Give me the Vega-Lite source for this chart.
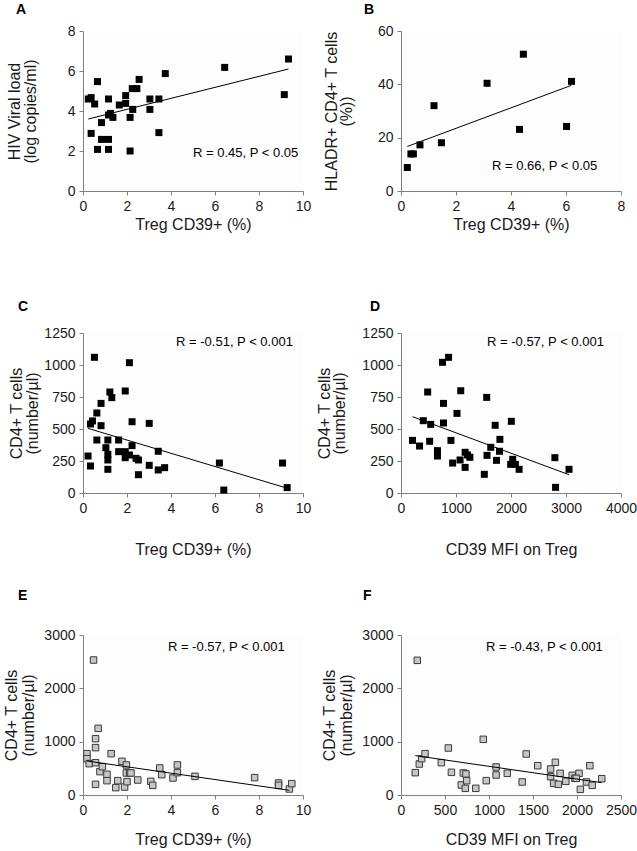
{
"$schema": "https://vega.github.io/schema/vega-lite/v6.json",
"autosize": {"type": "pad"},
"padding": {"left": 2, "top": 3, "right": 0, "bottom": 5},
"background": "white",
"datasets": {
"A": [{"x":0.24,"y":4.60},{"x":0.37,"y":4.67},{"x":0.53,"y":4.35},{"x":0.66,"y":5.47},{"x":0.37,"y":2.88},{"x":0.66,"y":2.08},{"x":0.84,"y":3.42},{"x":0.84,"y":2.58},{"x":1.16,"y":2.58},{"x":1.16,"y":2.08},{"x":1.16,"y":4.60},{"x":1.16,"y":3.80},{"x":1.25,"y":3.88},{"x":1.36,"y":3.68},{"x":1.65,"y":4.30},{"x":1.94,"y":4.77},{"x":1.94,"y":4.38},{"x":2.14,"y":2.00},{"x":2.14,"y":3.68},{"x":2.26,"y":4.08},{"x":2.24,"y":5.12},{"x":2.45,"y":5.12},{"x":2.55,"y":5.58},{"x":3.04,"y":4.60},{"x":3.04,"y":4.08},{"x":3.45,"y":4.60},{"x":3.45,"y":2.92},{"x":3.74,"y":5.87},{"x":6.44,"y":6.18},{"x":9.15,"y":4.82},{"x":9.34,"y":6.60}],
"A_line": [{"x":0.24,"y":3.60},{"x":9.34,"y":6.10}],
"A_txt": [{"x":5.0,"y":1.9,"label":"R = 0.45, P < 0.05"}],
"B": [{"x":0.23,"y":8.8},{"x":0.36,"y":13.9},{"x":0.45,"y":13.9},{"x":0.69,"y":17.3},{"x":1.20,"y":32.0},{"x":1.47,"y":18.1},{"x":3.13,"y":40.4},{"x":4.31,"y":23.1},{"x":4.45,"y":51.3},{"x":6.02,"y":24.2},{"x":6.20,"y":41.1}],
"B_line": [{"x":0.23,"y":16.7},{"x":6.19,"y":39.6}],
"B_txt": [{"x":3.31,"y":9.4,"label":"R = 0.66, P < 0.05"}],
"C": [{"x":0.23,"y":289},{"x":0.34,"y":211},{"x":0.34,"y":539},{"x":0.43,"y":563},{"x":0.52,"y":1060},{"x":0.63,"y":625},{"x":0.63,"y":414},{"x":0.82,"y":700},{"x":0.82,"y":526},{"x":1.13,"y":414},{"x":1.04,"y":354},{"x":1.13,"y":302},{"x":1.13,"y":258},{"x":1.13,"y":185},{"x":1.22,"y":789},{"x":1.31,"y":745},{"x":1.62,"y":414},{"x":1.62,"y":323},{"x":1.92,"y":797},{"x":1.92,"y":323},{"x":1.92,"y":276},{"x":2.11,"y":297},{"x":2.11,"y":1018},{"x":2.23,"y":557},{"x":2.23,"y":370},{"x":2.41,"y":271},{"x":2.52,"y":258},{"x":2.52,"y":143},{"x":3.01,"y":544},{"x":3.01,"y":216},{"x":3.42,"y":326},{"x":3.42,"y":180},{"x":3.71,"y":198},{"x":6.20,"y":234},{"x":6.40,"y":23},{"x":9.07,"y":234},{"x":9.28,"y":42}],
"C_line": [{"x":0.23,"y":505},{"x":9.25,"y":39}],
"C_txt": [{"x":4.23,"y":1180,"label":"R = -0.51, P < 0.001"}],
"D": [{"x":209,"y":411},{"x":337,"y":367},{"x":405,"y":565},{"x":485,"y":789},{"x":521,"y":404},{"x":540,"y":536},{"x":663,"y":331},{"x":663,"y":289},{"x":755,"y":1021},{"x":773,"y":700},{"x":773,"y":547},{"x":865,"y":1060},{"x":908,"y":411},{"x":939,"y":234},{"x":1018,"y":622},{"x":1074,"y":258},{"x":1086,"y":799},{"x":1166,"y":318},{"x":1166,"y":200},{"x":1209,"y":297},{"x":1252,"y":279},{"x":1515,"y":146},{"x":1558,"y":747},{"x":1564,"y":294},{"x":1632,"y":357},{"x":1712,"y":529},{"x":1736,"y":255},{"x":1798,"y":419},{"x":1791,"y":326},{"x":2006,"y":560},{"x":2031,"y":263},{"x":1994,"y":224},{"x":2080,"y":224},{"x":2147,"y":185},{"x":2798,"y":276},{"x":2810,"y":44},{"x":3055,"y":185}],
"D_line": [{"x":209,"y":596},{"x":3055,"y":143}],
"D_txt": [{"x":1564,"y":1180,"label":"R = -0.57, P < 0.001"}],
"E": [{"x":0.18,"y":775},{"x":0.18,"y":681},{"x":0.28,"y":588},{"x":0.48,"y":2531},{"x":0.57,"y":1056},{"x":0.57,"y":888},{"x":0.57,"y":606},{"x":0.57,"y":200},{"x":0.69,"y":1250},{"x":0.77,"y":438},{"x":0.88,"y":531},{"x":1.09,"y":388},{"x":1.09,"y":269},{"x":1.28,"y":775},{"x":1.49,"y":138},{"x":1.58,"y":269},{"x":1.77,"y":631},{"x":1.89,"y":150},{"x":1.97,"y":563},{"x":1.97,"y":413},{"x":2.0,"y":250},{"x":2.12,"y":413},{"x":2.18,"y":413},{"x":2.49,"y":281},{"x":3.08,"y":256},{"x":3.17,"y":181},{"x":3.49,"y":506},{"x":3.58,"y":381},{"x":4.09,"y":319},{"x":4.29,"y":563},{"x":4.29,"y":419},{"x":5.09,"y":350},{"x":7.8,"y":325},{"x":8.89,"y":225},{"x":8.89,"y":181},{"x":9.38,"y":113},{"x":9.49,"y":213}],
"E_line": [{"x":0.18,"y":638},{"x":9.38,"y":88}],
"E_txt": [{"x":3.86,"y":2775,"label":"R = -0.57, P < 0.001"}],
"F": [{"x":162,"y":419},{"x":185,"y":2525},{"x":208,"y":581},{"x":235,"y":681},{"x":273,"y":775},{"x":458,"y":606},{"x":538,"y":881},{"x":573,"y":425},{"x":685,"y":188},{"x":708,"y":413},{"x":738,"y":394},{"x":731,"y":125},{"x":746,"y":269},{"x":850,"y":125},{"x":935,"y":1044},{"x":969,"y":269},{"x":1081,"y":525},{"x":1081,"y":375},{"x":1208,"y":406},{"x":1377,"y":244},{"x":1423,"y":769},{"x":1554,"y":550},{"x":1700,"y":488},{"x":1700,"y":344},{"x":1754,"y":613},{"x":1735,"y":219},{"x":1788,"y":200},{"x":1808,"y":406},{"x":1873,"y":256},{"x":1946,"y":369},{"x":1977,"y":313},{"x":2023,"y":406},{"x":1992,"y":313},{"x":2038,"y":106},{"x":2108,"y":244},{"x":2146,"y":550},{"x":2173,"y":181},{"x":2281,"y":306}],
"F_line": [{"x":162,"y":738},{"x":2281,"y":231}],
"F_txt": [{"x":966,"y":2775,"label":"R = -0.43, P < 0.001"}]
},
"columns": 2,
"spacing": {"row": 142, "column": 98},
"bounds": "flush",
"concat": [
{
"width": 220, "height": 160,
"title": {"text": "A", "dx": -67, "offset": 7},
"encoding": {
"x": {"field": "x", "type": "quantitative", "scale": {"domain": [0, 10], "nice": false}, "axis": {"values": [0,2,4,6,8,10], "title": "Treg CD39+ (%)", "titleY": 33, "titleBaseline": "middle"}},
"y": {"field": "y", "type": "quantitative", "scale": {"domain": [0, 8], "nice": false}, "axis": {"values": [0,2,4,6,8], "title": ["HIV Viral load", "(log copies/ml)"], "titleX": -69, "titleBaseline": "middle", "titleLineHeight": 16}}
},
"layer": [
{"data": {"name": "A"}, "mark": {"type": "square", "size": 49, "color": "#000000", "opacity": 1}},
{"data": {"name": "A_line"}, "mark": {"type": "line", "color": "#000000", "strokeWidth": 1}},
{"data": {"name": "A_txt"}, "mark": {"type": "text", "align": "left", "baseline": "middle", "fontSize": 13, "color": "#000000"}, "encoding": {"text": {"field": "label"}}}
]
},
{
"width": 220, "height": 160,
"title": {"text": "B", "dx": -37, "offset": 7},
"encoding": {
"x": {"field": "x", "type": "quantitative", "scale": {"domain": [0, 8], "nice": false}, "axis": {"values": [0,2,4,6,8], "title": "Treg CD39+ (%)", "titleY": 33, "titleBaseline": "middle"}},
"y": {"field": "y", "type": "quantitative", "scale": {"domain": [0, 60], "nice": false}, "axis": {"values": [0,20,40,60], "title": ["HLADR+ CD4+ T cells", "(%))"], "titleX": -70, "titleBaseline": "middle", "titleLineHeight": 15}}
},
"layer": [
{"data": {"name": "B"}, "mark": {"type": "square", "size": 49, "color": "#000000", "opacity": 1}},
{"data": {"name": "B_line"}, "mark": {"type": "line", "color": "#000000", "strokeWidth": 1}},
{"data": {"name": "B_txt"}, "mark": {"type": "text", "align": "left", "baseline": "middle", "fontSize": 13, "color": "#000000"}, "encoding": {"text": {"field": "label"}}}
]
},
{
"width": 220, "height": 160,
"title": {"text": "C", "dx": -65, "offset": 12},
"encoding": {
"x": {"field": "x", "type": "quantitative", "scale": {"domain": [0, 10], "nice": false}, "axis": {"values": [0,2,4,6,8,10], "title": "Treg CD39+ (%)", "titleY": 56, "titleBaseline": "middle"}},
"y": {"field": "y", "type": "quantitative", "scale": {"domain": [0, 1250], "nice": false}, "axis": {"values": [0,250,500,750,1000,1250], "title": ["CD4+ T cells", "(number/µl)"], "titleX": -67, "titleBaseline": "middle", "titleLineHeight": 16}}
},
"layer": [
{"data": {"name": "C"}, "mark": {"type": "square", "size": 49, "color": "#000000", "opacity": 1}},
{"data": {"name": "C_line"}, "mark": {"type": "line", "color": "#000000", "strokeWidth": 1}},
{"data": {"name": "C_txt"}, "mark": {"type": "text", "align": "left", "baseline": "middle", "fontSize": 13, "color": "#000000"}, "encoding": {"text": {"field": "label"}}}
]
},
{
"width": 220, "height": 160,
"title": {"text": "D", "dx": -31, "offset": 12},
"encoding": {
"x": {"field": "x", "type": "quantitative", "scale": {"domain": [0, 4000], "nice": false}, "axis": {"values": [0,1000,2000,3000,4000], "title": "CD39 MFI on Treg", "titleY": 56, "titleBaseline": "middle"}},
"y": {"field": "y", "type": "quantitative", "scale": {"domain": [0, 1250], "nice": false}, "axis": {"values": [0,250,500,750,1000,1250], "title": ["CD4+ T cells", "(number/µl)"], "titleX": -77, "titleBaseline": "middle", "titleLineHeight": 15}}
},
"layer": [
{"data": {"name": "D"}, "mark": {"type": "square", "size": 49, "color": "#000000", "opacity": 1}},
{"data": {"name": "D_line"}, "mark": {"type": "line", "color": "#000000", "strokeWidth": 1}},
{"data": {"name": "D_txt"}, "mark": {"type": "text", "align": "left", "baseline": "middle", "fontSize": 13, "color": "#000000"}, "encoding": {"text": {"field": "label"}}}
]
},
{
"width": 220, "height": 160,
"title": {"text": "E", "dx": -65, "offset": 25},
"encoding": {
"x": {"field": "x", "type": "quantitative", "scale": {"domain": [0, 10], "nice": false}, "axis": {"values": [0,2,4,6,8,10], "title": "Treg CD39+ (%)", "titleY": 44, "titleBaseline": "middle"}},
"y": {"field": "y", "type": "quantitative", "scale": {"domain": [0, 3000], "nice": false}, "axis": {"values": [0,1000,2000,3000], "title": ["CD4+ T cells", "(number/µl)"], "titleX": -72, "titleBaseline": "middle", "titleLineHeight": 17}}
},
"layer": [
{"data": {"name": "E"}, "mark": {"type": "square", "size": 42, "color": "#c6c6c6", "fill": "#c6c6c6", "stroke": "#3a3a3a", "strokeWidth": 1, "filled": true, "opacity": 1}},
{"data": {"name": "E_line"}, "mark": {"type": "line", "color": "#000000", "strokeWidth": 1}},
{"data": {"name": "E_txt"}, "mark": {"type": "text", "align": "left", "baseline": "middle", "fontSize": 13, "color": "#000000"}, "encoding": {"text": {"field": "label"}}}
]
},
{
"width": 220, "height": 160,
"title": {"text": "F", "dx": -38, "offset": 25},
"encoding": {
"x": {"field": "x", "type": "quantitative", "scale": {"domain": [0, 2500], "nice": false}, "axis": {"values": [0,500,1000,1500,2000,2500], "title": "CD39 MFI on Treg", "titleY": 44, "titleBaseline": "middle"}},
"y": {"field": "y", "type": "quantitative", "scale": {"domain": [0, 3000], "nice": false}, "axis": {"values": [0,1000,2000,3000], "title": ["CD4+ T cells", "(number/µl)"], "titleX": -72, "titleBaseline": "middle", "titleLineHeight": 17}}
},
"layer": [
{"data": {"name": "F"}, "mark": {"type": "square", "size": 42, "color": "#c6c6c6", "fill": "#c6c6c6", "stroke": "#3a3a3a", "strokeWidth": 1, "filled": true, "opacity": 1}},
{"data": {"name": "F_line"}, "mark": {"type": "line", "color": "#000000", "strokeWidth": 1}},
{"data": {"name": "F_txt"}, "mark": {"type": "text", "align": "left", "baseline": "middle", "fontSize": 13, "color": "#000000"}, "encoding": {"text": {"field": "label"}}}
]
}
],
"config": {
"font": "Liberation Sans",
"view": {"stroke": null, "fill": "#fdfdfd"},
"axis": {"grid": false, "domainColor": "#808080", "tickColor": "#808080", "tickSize": 4, "labelPadding": 4, "labelFont": "Liberation Sans", "labelFontSize": 14, "labelColor": "#1a1a1a", "labelFlush": false, "labelOverlap": false, "format": "d", "titleFont": "Liberation Sans", "titleFontSize": 16, "titleFontWeight": "normal", "titleColor": "#1a1a1a"},
"axisX": {"titleAngle": 0},
"axisY": {"titleAngle": -90},
"title": {"font": "Liberation Sans", "fontSize": 14, "fontWeight": "bold", "anchor": "start", "baseline": "alphabetic", "color": "#000000", "frame": "group"},
"text": {"font": "Liberation Sans"}
}
}
